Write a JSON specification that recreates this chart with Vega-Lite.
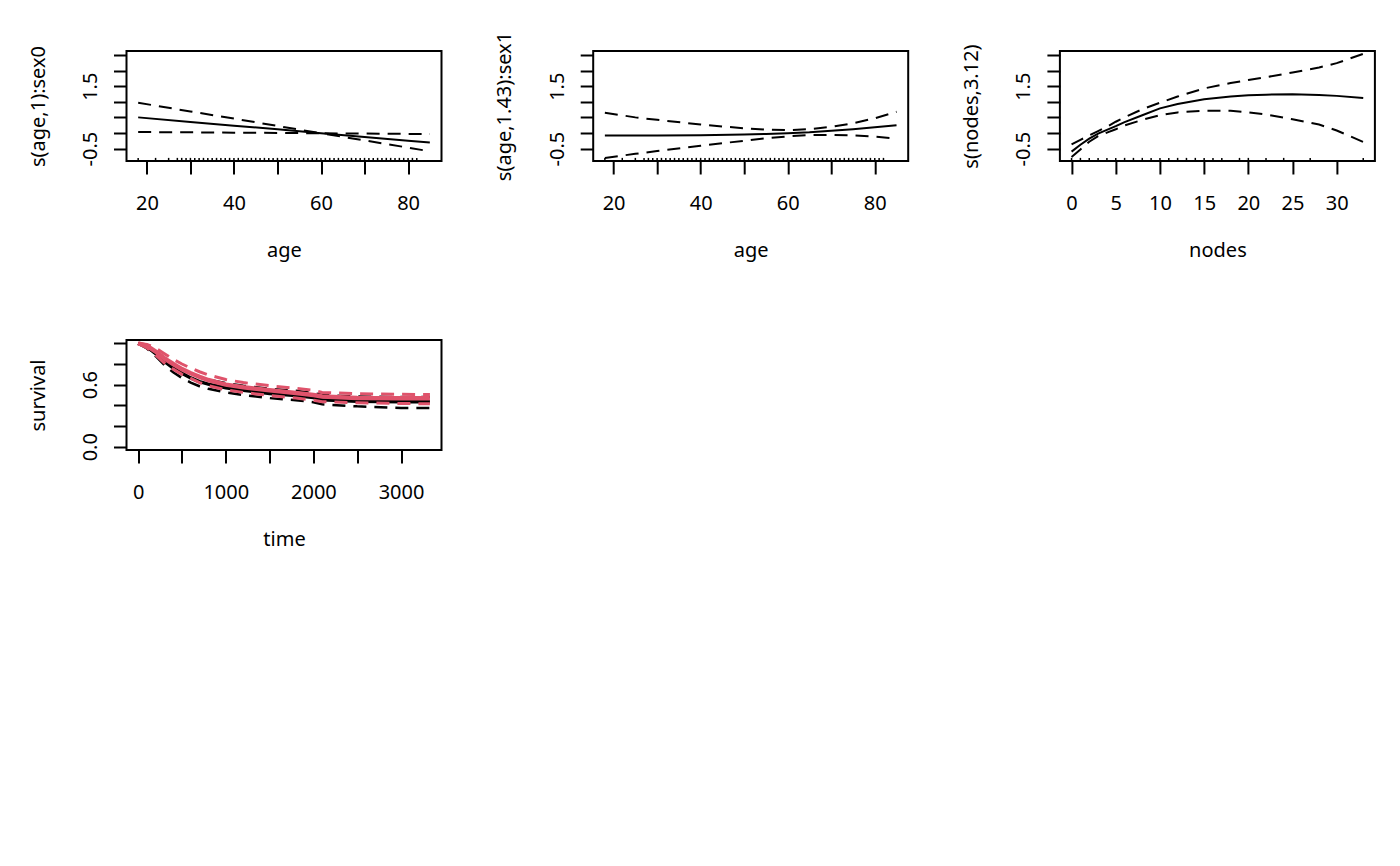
{
  "$schema": "https://vega.github.io/schema/vega-lite/v6.json",
  "background": "white",
  "padding": {"left": 26.5, "top": 30, "right": 5, "bottom": 5},
  "config": {
    "font": "Noto Sans",
    "view": {"stroke": "black", "strokeWidth": 2},
    "axis": {
      "grid": false, "domain": false,
      "tickColor": "black", "tickWidth": 2, "tickSize": 13,
      "labelFont": "Noto Sans", "labelFontSize": 20, "labelColor": "black",
      "titleFont": "Noto Sans", "titleFontSize": 20, "titleFontWeight": "normal", "titleColor": "black",
      "labelOverlap": false, "labelFlush": false, "labelBound": false
    },
    "axisX": {"labelAngle": 0, "labelBaseline": "alphabetic", "labelPadding": 35, "titleBaseline": "alphabetic", "titleY": 95, "titleX": 157.5},
    "axisY": {"labelAngle": -90, "labelAlign": "center", "labelBaseline": "alphabetic", "labelPadding": 17, "titleAngle": -90, "titleAlign": "center", "titleBaseline": "alphabetic", "titleX": -82.5, "titleY": 55}
  },
  "datasets": {
    "rug_age": [
      {"age": 18}, {"age": 22}, {"age": 25}, {"age": 27}, {"age": 28}, {"age": 29}, {"age": 30}, {"age": 31}, {"age": 32}, {"age": 33}, {"age": 34}, {"age": 35}, {"age": 36}, {"age": 37}, {"age": 38}, {"age": 39}, {"age": 40}, {"age": 41}, {"age": 42}, {"age": 43}, {"age": 44}, {"age": 45}, {"age": 46}, {"age": 47}, {"age": 48}, {"age": 49}, {"age": 50}, {"age": 51}, {"age": 52}, {"age": 53}, {"age": 54}, {"age": 55}, {"age": 56}, {"age": 57}, {"age": 58}, {"age": 59}, {"age": 60}, {"age": 61}, {"age": 62}, {"age": 63}, {"age": 64}, {"age": 65}, {"age": 66}, {"age": 67}, {"age": 68}, {"age": 69}, {"age": 70}, {"age": 71}, {"age": 72}, {"age": 73}, {"age": 74}, {"age": 75}, {"age": 76}, {"age": 77}, {"age": 78}, {"age": 79}, {"age": 80}, {"age": 81}, {"age": 82}
    ],
    "rug_nodes": [
      {"nodes": 0}, {"nodes": 1}, {"nodes": 2}, {"nodes": 3}, {"nodes": 4}, {"nodes": 5}, {"nodes": 6}, {"nodes": 7}, {"nodes": 8}, {"nodes": 9}, {"nodes": 10}, {"nodes": 11}, {"nodes": 12}, {"nodes": 13}, {"nodes": 14}, {"nodes": 15}, {"nodes": 16}, {"nodes": 17}, {"nodes": 19}, {"nodes": 20}, {"nodes": 22}, {"nodes": 24}, {"nodes": 27}, {"nodes": 33}
    ],
    "age0": [
      {"age": 18, "v": 0.50, "k": "fit"}, {"age": 30, "v": 0.355, "k": "fit"}, {"age": 40, "v": 0.235, "k": "fit"}, {"age": 50, "v": 0.115, "k": "fit"}, {"age": 60, "v": -0.01, "k": "fit"}, {"age": 70, "v": -0.13, "k": "fit"}, {"age": 80, "v": -0.25, "k": "fit"}, {"age": 85, "v": -0.31, "k": "fit"},
      {"age": 18, "v": 0.97, "k": "hi"}, {"age": 30, "v": 0.69, "k": "hi"}, {"age": 40, "v": 0.46, "k": "hi"}, {"age": 50, "v": 0.225, "k": "hi"}, {"age": 60, "v": -0.01, "k": "hi"}, {"age": 70, "v": -0.02, "k": "hi"}, {"age": 80, "v": -0.03, "k": "hi"}, {"age": 85, "v": -0.03, "k": "hi"},
      {"age": 18, "v": 0.03, "k": "lo"}, {"age": 30, "v": 0.02, "k": "lo"}, {"age": 40, "v": 0.01, "k": "lo"}, {"age": 50, "v": 0.0, "k": "lo"}, {"age": 60, "v": -0.01, "k": "lo"}, {"age": 70, "v": -0.24, "k": "lo"}, {"age": 80, "v": -0.47, "k": "lo"}, {"age": 85, "v": -0.59, "k": "lo"}
    ],
    "age1": [
      {"age": 18, "v": -0.08, "k": "fit"}, {"age": 25, "v": -0.08, "k": "fit"}, {"age": 30, "v": -0.08, "k": "fit"}, {"age": 40, "v": -0.07, "k": "fit"}, {"age": 50, "v": -0.05, "k": "fit"}, {"age": 55, "v": -0.03, "k": "fit"}, {"age": 60, "v": -0.01, "k": "fit"}, {"age": 65, "v": 0.02, "k": "fit"}, {"age": 70, "v": 0.07, "k": "fit"}, {"age": 75, "v": 0.12, "k": "fit"}, {"age": 80, "v": 0.18, "k": "fit"}, {"age": 85, "v": 0.25, "k": "fit"},
      {"age": 18, "v": 0.65, "k": "hi"}, {"age": 25, "v": 0.50, "k": "hi"}, {"age": 30, "v": 0.42, "k": "hi"}, {"age": 40, "v": 0.27, "k": "hi"}, {"age": 50, "v": 0.15, "k": "hi"}, {"age": 55, "v": 0.11, "k": "hi"}, {"age": 60, "v": 0.09, "k": "hi"}, {"age": 65, "v": 0.12, "k": "hi"}, {"age": 70, "v": 0.20, "k": "hi"}, {"age": 75, "v": 0.31, "k": "hi"}, {"age": 80, "v": 0.47, "k": "hi"}, {"age": 85, "v": 0.68, "k": "hi"},
      {"age": 18, "v": -0.80, "k": "lo"}, {"age": 25, "v": -0.67, "k": "lo"}, {"age": 30, "v": -0.58, "k": "lo"}, {"age": 40, "v": -0.41, "k": "lo"}, {"age": 50, "v": -0.25, "k": "lo"}, {"age": 55, "v": -0.17, "k": "lo"}, {"age": 60, "v": -0.11, "k": "lo"}, {"age": 65, "v": -0.07, "k": "lo"}, {"age": 70, "v": -0.06, "k": "lo"}, {"age": 75, "v": -0.08, "k": "lo"}, {"age": 80, "v": -0.12, "k": "lo"}, {"age": 85, "v": -0.18, "k": "lo"}
    ],
    "nodes": [
      {"nodes": 0, "v": -0.6, "k": "fit"}, {"nodes": 1, "v": -0.38, "k": "fit"}, {"nodes": 2, "v": -0.18, "k": "fit"}, {"nodes": 3, "v": -0.02, "k": "fit"}, {"nodes": 4, "v": 0.1, "k": "fit"}, {"nodes": 5, "v": 0.22, "k": "fit"}, {"nodes": 6, "v": 0.35, "k": "fit"}, {"nodes": 8, "v": 0.57, "k": "fit"}, {"nodes": 10, "v": 0.79, "k": "fit"}, {"nodes": 12, "v": 0.93, "k": "fit"}, {"nodes": 15, "v": 1.08, "k": "fit"}, {"nodes": 18, "v": 1.17, "k": "fit"}, {"nodes": 20, "v": 1.21, "k": "fit"}, {"nodes": 22, "v": 1.23, "k": "fit"}, {"nodes": 25, "v": 1.24, "k": "fit"}, {"nodes": 28, "v": 1.22, "k": "fit"}, {"nodes": 30, "v": 1.19, "k": "fit"}, {"nodes": 33, "v": 1.12, "k": "fit"},
      {"nodes": 0, "v": -0.37, "k": "hi"}, {"nodes": 1, "v": -0.22, "k": "hi"}, {"nodes": 2, "v": -0.08, "k": "hi"}, {"nodes": 3, "v": 0.06, "k": "hi"}, {"nodes": 4, "v": 0.2, "k": "hi"}, {"nodes": 5, "v": 0.36, "k": "hi"}, {"nodes": 6, "v": 0.5, "k": "hi"}, {"nodes": 8, "v": 0.76, "k": "hi"}, {"nodes": 10, "v": 0.97, "k": "hi"}, {"nodes": 12, "v": 1.17, "k": "hi"}, {"nodes": 15, "v": 1.43, "k": "hi"}, {"nodes": 18, "v": 1.6, "k": "hi"}, {"nodes": 20, "v": 1.7, "k": "hi"}, {"nodes": 22, "v": 1.79, "k": "hi"}, {"nodes": 25, "v": 1.94, "k": "hi"}, {"nodes": 28, "v": 2.1, "k": "hi"}, {"nodes": 30, "v": 2.24, "k": "hi"}, {"nodes": 33, "v": 2.54, "k": "hi"},
      {"nodes": 0, "v": -0.77, "k": "lo"}, {"nodes": 1, "v": -0.53, "k": "lo"}, {"nodes": 2, "v": -0.28, "k": "lo"}, {"nodes": 3, "v": -0.1, "k": "lo"}, {"nodes": 4, "v": 0.01, "k": "lo"}, {"nodes": 5, "v": 0.12, "k": "lo"}, {"nodes": 6, "v": 0.24, "k": "lo"}, {"nodes": 8, "v": 0.42, "k": "lo"}, {"nodes": 10, "v": 0.57, "k": "lo"}, {"nodes": 12, "v": 0.66, "k": "lo"}, {"nodes": 15, "v": 0.71, "k": "lo"}, {"nodes": 18, "v": 0.71, "k": "lo"}, {"nodes": 20, "v": 0.66, "k": "lo"}, {"nodes": 22, "v": 0.59, "k": "lo"}, {"nodes": 25, "v": 0.44, "k": "lo"}, {"nodes": 28, "v": 0.27, "k": "lo"}, {"nodes": 30, "v": 0.08, "k": "lo"}, {"nodes": 33, "v": -0.29, "k": "lo"}
    ],
    "surv": [
      {"t": 0, "s": 1.0, "g": "0", "k": "fit"}, {"t": 100, "s": 0.965, "g": "0", "k": "fit"}, {"t": 200, "s": 0.90, "g": "0", "k": "fit"}, {"t": 300, "s": 0.825, "g": "0", "k": "fit"}, {"t": 400, "s": 0.76, "g": "0", "k": "fit"}, {"t": 500, "s": 0.71, "g": "0", "k": "fit"}, {"t": 600, "s": 0.665, "g": "0", "k": "fit"}, {"t": 700, "s": 0.63, "g": "0", "k": "fit"}, {"t": 800, "s": 0.605, "g": "0", "k": "fit"}, {"t": 1000, "s": 0.57, "g": "0", "k": "fit"}, {"t": 1200, "s": 0.545, "g": "0", "k": "fit"}, {"t": 1500, "s": 0.515, "g": "0", "k": "fit"}, {"t": 1800, "s": 0.495, "g": "0", "k": "fit"}, {"t": 2000, "s": 0.475, "g": "0", "k": "fit"}, {"t": 2100, "s": 0.455, "g": "0", "k": "fit"}, {"t": 2500, "s": 0.44, "g": "0", "k": "fit"}, {"t": 3000, "s": 0.435, "g": "0", "k": "fit"}, {"t": 3330, "s": 0.435, "g": "0", "k": "fit"},
      {"t": 0, "s": 1.0, "g": "0", "k": "hi"}, {"t": 100, "s": 0.98, "g": "0", "k": "hi"}, {"t": 200, "s": 0.925, "g": "0", "k": "hi"}, {"t": 300, "s": 0.86, "g": "0", "k": "hi"}, {"t": 400, "s": 0.80, "g": "0", "k": "hi"}, {"t": 500, "s": 0.75, "g": "0", "k": "hi"}, {"t": 600, "s": 0.71, "g": "0", "k": "hi"}, {"t": 700, "s": 0.675, "g": "0", "k": "hi"}, {"t": 800, "s": 0.65, "g": "0", "k": "hi"}, {"t": 1000, "s": 0.615, "g": "0", "k": "hi"}, {"t": 1200, "s": 0.59, "g": "0", "k": "hi"}, {"t": 1500, "s": 0.56, "g": "0", "k": "hi"}, {"t": 1800, "s": 0.54, "g": "0", "k": "hi"}, {"t": 2000, "s": 0.52, "g": "0", "k": "hi"}, {"t": 2100, "s": 0.50, "g": "0", "k": "hi"}, {"t": 2500, "s": 0.485, "g": "0", "k": "hi"}, {"t": 3000, "s": 0.48, "g": "0", "k": "hi"}, {"t": 3330, "s": 0.48, "g": "0", "k": "hi"},
      {"t": 0, "s": 1.0, "g": "0", "k": "lo"}, {"t": 100, "s": 0.95, "g": "0", "k": "lo"}, {"t": 200, "s": 0.875, "g": "0", "k": "lo"}, {"t": 300, "s": 0.79, "g": "0", "k": "lo"}, {"t": 400, "s": 0.72, "g": "0", "k": "lo"}, {"t": 500, "s": 0.665, "g": "0", "k": "lo"}, {"t": 600, "s": 0.62, "g": "0", "k": "lo"}, {"t": 700, "s": 0.585, "g": "0", "k": "lo"}, {"t": 800, "s": 0.56, "g": "0", "k": "lo"}, {"t": 1000, "s": 0.525, "g": "0", "k": "lo"}, {"t": 1200, "s": 0.50, "g": "0", "k": "lo"}, {"t": 1500, "s": 0.47, "g": "0", "k": "lo"}, {"t": 1800, "s": 0.45, "g": "0", "k": "lo"}, {"t": 2000, "s": 0.43, "g": "0", "k": "lo"}, {"t": 2100, "s": 0.41, "g": "0", "k": "lo"}, {"t": 2500, "s": 0.39, "g": "0", "k": "lo"}, {"t": 3000, "s": 0.375, "g": "0", "k": "lo"}, {"t": 3330, "s": 0.375, "g": "0", "k": "lo"},
      {"t": 0, "s": 1.0, "g": "1", "k": "fit"}, {"t": 100, "s": 0.975, "g": "1", "k": "fit"}, {"t": 200, "s": 0.92, "g": "1", "k": "fit"}, {"t": 300, "s": 0.855, "g": "1", "k": "fit"}, {"t": 400, "s": 0.80, "g": "1", "k": "fit"}, {"t": 500, "s": 0.75, "g": "1", "k": "fit"}, {"t": 600, "s": 0.71, "g": "1", "k": "fit"}, {"t": 700, "s": 0.675, "g": "1", "k": "fit"}, {"t": 800, "s": 0.645, "g": "1", "k": "fit"}, {"t": 1000, "s": 0.60, "g": "1", "k": "fit"}, {"t": 1200, "s": 0.575, "g": "1", "k": "fit"}, {"t": 1500, "s": 0.545, "g": "1", "k": "fit"}, {"t": 1800, "s": 0.52, "g": "1", "k": "fit"}, {"t": 2000, "s": 0.50, "g": "1", "k": "fit"}, {"t": 2100, "s": 0.485, "g": "1", "k": "fit"}, {"t": 2500, "s": 0.472, "g": "1", "k": "fit"}, {"t": 3000, "s": 0.468, "g": "1", "k": "fit"}, {"t": 3330, "s": 0.468, "g": "1", "k": "fit"},
      {"t": 0, "s": 1.0, "g": "1", "k": "hi"}, {"t": 100, "s": 0.99, "g": "1", "k": "hi"}, {"t": 200, "s": 0.955, "g": "1", "k": "hi"}, {"t": 300, "s": 0.90, "g": "1", "k": "hi"}, {"t": 400, "s": 0.845, "g": "1", "k": "hi"}, {"t": 500, "s": 0.80, "g": "1", "k": "hi"}, {"t": 600, "s": 0.76, "g": "1", "k": "hi"}, {"t": 700, "s": 0.725, "g": "1", "k": "hi"}, {"t": 800, "s": 0.695, "g": "1", "k": "hi"}, {"t": 1000, "s": 0.65, "g": "1", "k": "hi"}, {"t": 1200, "s": 0.62, "g": "1", "k": "hi"}, {"t": 1500, "s": 0.59, "g": "1", "k": "hi"}, {"t": 1800, "s": 0.565, "g": "1", "k": "hi"}, {"t": 2000, "s": 0.545, "g": "1", "k": "hi"}, {"t": 2100, "s": 0.525, "g": "1", "k": "hi"}, {"t": 2500, "s": 0.512, "g": "1", "k": "hi"}, {"t": 3000, "s": 0.507, "g": "1", "k": "hi"}, {"t": 3330, "s": 0.505, "g": "1", "k": "hi"},
      {"t": 0, "s": 1.0, "g": "1", "k": "lo"}, {"t": 100, "s": 0.955, "g": "1", "k": "lo"}, {"t": 200, "s": 0.885, "g": "1", "k": "lo"}, {"t": 300, "s": 0.81, "g": "1", "k": "lo"}, {"t": 400, "s": 0.75, "g": "1", "k": "lo"}, {"t": 500, "s": 0.70, "g": "1", "k": "lo"}, {"t": 600, "s": 0.66, "g": "1", "k": "lo"}, {"t": 700, "s": 0.62, "g": "1", "k": "lo"}, {"t": 800, "s": 0.59, "g": "1", "k": "lo"}, {"t": 1000, "s": 0.55, "g": "1", "k": "lo"}, {"t": 1200, "s": 0.525, "g": "1", "k": "lo"}, {"t": 1500, "s": 0.495, "g": "1", "k": "lo"}, {"t": 1800, "s": 0.47, "g": "1", "k": "lo"}, {"t": 2000, "s": 0.45, "g": "1", "k": "lo"}, {"t": 2100, "s": 0.435, "g": "1", "k": "lo"}, {"t": 2500, "s": 0.425, "g": "1", "k": "lo"}, {"t": 3000, "s": 0.418, "g": "1", "k": "lo"}, {"t": 3330, "s": 0.415, "g": "1", "k": "lo"}
    ]
  },
  "columns": 3,
  "bounds": "flush",
  "spacing": {"row": 179, "column": 151.7},
  "concat": [
    {
      "width": 315, "height": 110,
      "layer": [
        {
          "data": {"name": "rug_age"},
          "mark": {"type": "rule", "color": "black", "strokeWidth": 1.5},
          "encoding": {
            "x": {"field": "age", "type": "quantitative", "title": "age", "scale": {"domain": [15.32, 87.68], "nice": false, "zero": false},
                  "axis": {"values": [20, 30, 40, 50, 60, 70, 80], "tickCount": 20, "labelExpr": "datum.value % 20 == 0 ? datum.label : ''"}},
            "y": {"datum": -0.9, "type": "quantitative", "title": "s(age,1):sex0", "scale": {"domain": [-0.9, 2.63], "nice": false, "zero": false},
                  "axis": {"values": [-0.5, 0, 0.5, 1, 1.5, 2, 2.5], "tickCount": 20, "labelExpr": "datum.value == -0.5 ? '-0.5' : datum.value == 1.5 ? '1.5' : ''"}},
            "y2": {"datum": -0.8}
          }
        },
        {
          "data": {"name": "age0"},
          "transform": [{"filter": "datum.k != 'fit'"}],
          "mark": {"type": "line", "color": "black", "strokeWidth": 2, "strokeDash": [13, 8]},
          "encoding": {
            "x": {"field": "age", "type": "quantitative", "title": "age"},
            "y": {"field": "v", "type": "quantitative", "title": "s(age,1):sex0"},
            "detail": {"field": "k"}
          }
        },
        {
          "data": {"name": "age0"},
          "transform": [{"filter": "datum.k == 'fit'"}],
          "mark": {"type": "line", "color": "black", "strokeWidth": 2},
          "encoding": {
            "x": {"field": "age", "type": "quantitative", "title": "age"},
            "y": {"field": "v", "type": "quantitative", "title": "s(age,1):sex0"}
          }
        }
      ]
    },
    {
      "width": 315, "height": 110,
      "layer": [
        {
          "data": {"name": "rug_age"},
          "mark": {"type": "rule", "color": "black", "strokeWidth": 1.5},
          "encoding": {
            "x": {"field": "age", "type": "quantitative", "title": "age", "scale": {"domain": [15.32, 87.68], "nice": false, "zero": false},
                  "axis": {"values": [20, 30, 40, 50, 60, 70, 80], "tickCount": 20, "labelExpr": "datum.value % 20 == 0 ? datum.label : ''"}},
            "y": {"datum": -0.9, "type": "quantitative", "title": "s(age,1.43):sex1", "scale": {"domain": [-0.9, 2.63], "nice": false, "zero": false},
                  "axis": {"values": [-0.5, 0, 0.5, 1, 1.5, 2, 2.5], "tickCount": 20, "labelExpr": "datum.value == -0.5 ? '-0.5' : datum.value == 1.5 ? '1.5' : ''"}},
            "y2": {"datum": -0.8}
          }
        },
        {
          "data": {"name": "age1"},
          "transform": [{"filter": "datum.k != 'fit'"}],
          "mark": {"type": "line", "color": "black", "strokeWidth": 2, "strokeDash": [13, 8]},
          "encoding": {
            "x": {"field": "age", "type": "quantitative", "title": "age"},
            "y": {"field": "v", "type": "quantitative", "title": "s(age,1.43):sex1"},
            "detail": {"field": "k"}
          }
        },
        {
          "data": {"name": "age1"},
          "transform": [{"filter": "datum.k == 'fit'"}],
          "mark": {"type": "line", "color": "black", "strokeWidth": 2},
          "encoding": {
            "x": {"field": "age", "type": "quantitative", "title": "age"},
            "y": {"field": "v", "type": "quantitative", "title": "s(age,1.43):sex1"}
          }
        }
      ]
    },
    {
      "width": 315, "height": 110,
      "layer": [
        {
          "data": {"name": "rug_nodes"},
          "mark": {"type": "rule", "color": "black", "strokeWidth": 1.5},
          "encoding": {
            "x": {"field": "nodes", "type": "quantitative", "title": "nodes", "scale": {"domain": [-1.32, 34.32], "nice": false, "zero": false},
                  "axis": {"values": [0, 5, 10, 15, 20, 25, 30], "tickCount": 20}},
            "y": {"datum": -0.9, "type": "quantitative", "title": "s(nodes,3.12)", "scale": {"domain": [-0.9, 2.63], "nice": false, "zero": false},
                  "axis": {"values": [-0.5, 0, 0.5, 1, 1.5, 2, 2.5], "tickCount": 20, "labelExpr": "datum.value == -0.5 ? '-0.5' : datum.value == 1.5 ? '1.5' : ''"}},
            "y2": {"datum": -0.8}
          }
        },
        {
          "data": {"name": "nodes"},
          "transform": [{"filter": "datum.k != 'fit'"}],
          "mark": {"type": "line", "color": "black", "strokeWidth": 2, "strokeDash": [13, 8]},
          "encoding": {
            "x": {"field": "nodes", "type": "quantitative", "title": "nodes"},
            "y": {"field": "v", "type": "quantitative", "title": "s(nodes,3.12)"},
            "detail": {"field": "k"}
          }
        },
        {
          "data": {"name": "nodes"},
          "transform": [{"filter": "datum.k == 'fit'"}],
          "mark": {"type": "line", "color": "black", "strokeWidth": 2},
          "encoding": {
            "x": {"field": "nodes", "type": "quantitative", "title": "nodes"},
            "y": {"field": "v", "type": "quantitative", "title": "s(nodes,3.12)"}
          }
        }
      ]
    },
    {
      "width": 315, "height": 110,
      "data": {"name": "surv"},
      "layer": [
        {
          "transform": [{"filter": "datum.g == '0' && datum.k != 'fit'"}],
          "mark": {"type": "line", "color": "black", "strokeWidth": 2.5, "strokeDash": [13, 8]},
          "encoding": {
            "x": {"field": "t", "type": "quantitative", "title": "time", "scale": {"domain": [-133, 3462], "nice": false, "zero": false},
                  "axis": {"values": [0, 500, 1000, 1500, 2000, 2500, 3000], "tickCount": 20, "format": "d", "labelExpr": "datum.value % 1000 == 0 ? datum.label : ''"}},
            "y": {"field": "s", "type": "quantitative", "title": "survival", "scale": {"domain": [-0.032, 1.032], "nice": false, "zero": false},
                  "axis": {"values": [0, 0.2, 0.4, 0.6, 0.8, 1], "tickCount": 20, "labelExpr": "datum.value == 0 ? '0.0' : datum.value == 0.6 ? '0.6' : ''"}},
            "detail": {"field": "k"}
          }
        },
        {
          "transform": [{"filter": "datum.g == '0' && datum.k == 'fit'"}],
          "mark": {"type": "line", "color": "black", "strokeWidth": 3.5},
          "encoding": {
            "x": {"field": "t", "type": "quantitative", "title": "time"},
            "y": {"field": "s", "type": "quantitative", "title": "survival"}
          }
        },
        {
          "transform": [{"filter": "datum.g == '1' && datum.k != 'fit'"}],
          "mark": {"type": "line", "color": "#DF536B", "strokeWidth": 3, "strokeDash": [13, 8]},
          "encoding": {
            "x": {"field": "t", "type": "quantitative", "title": "time"},
            "y": {"field": "s", "type": "quantitative", "title": "survival"},
            "detail": {"field": "k"}
          }
        },
        {
          "transform": [{"filter": "datum.g == '1' && datum.k == 'fit'"}],
          "mark": {"type": "line", "color": "#DF536B", "strokeWidth": 4.5},
          "encoding": {
            "x": {"field": "t", "type": "quantitative", "title": "time"},
            "y": {"field": "s", "type": "quantitative", "title": "survival"}
          }
        }
      ]
    }
  ]
}
